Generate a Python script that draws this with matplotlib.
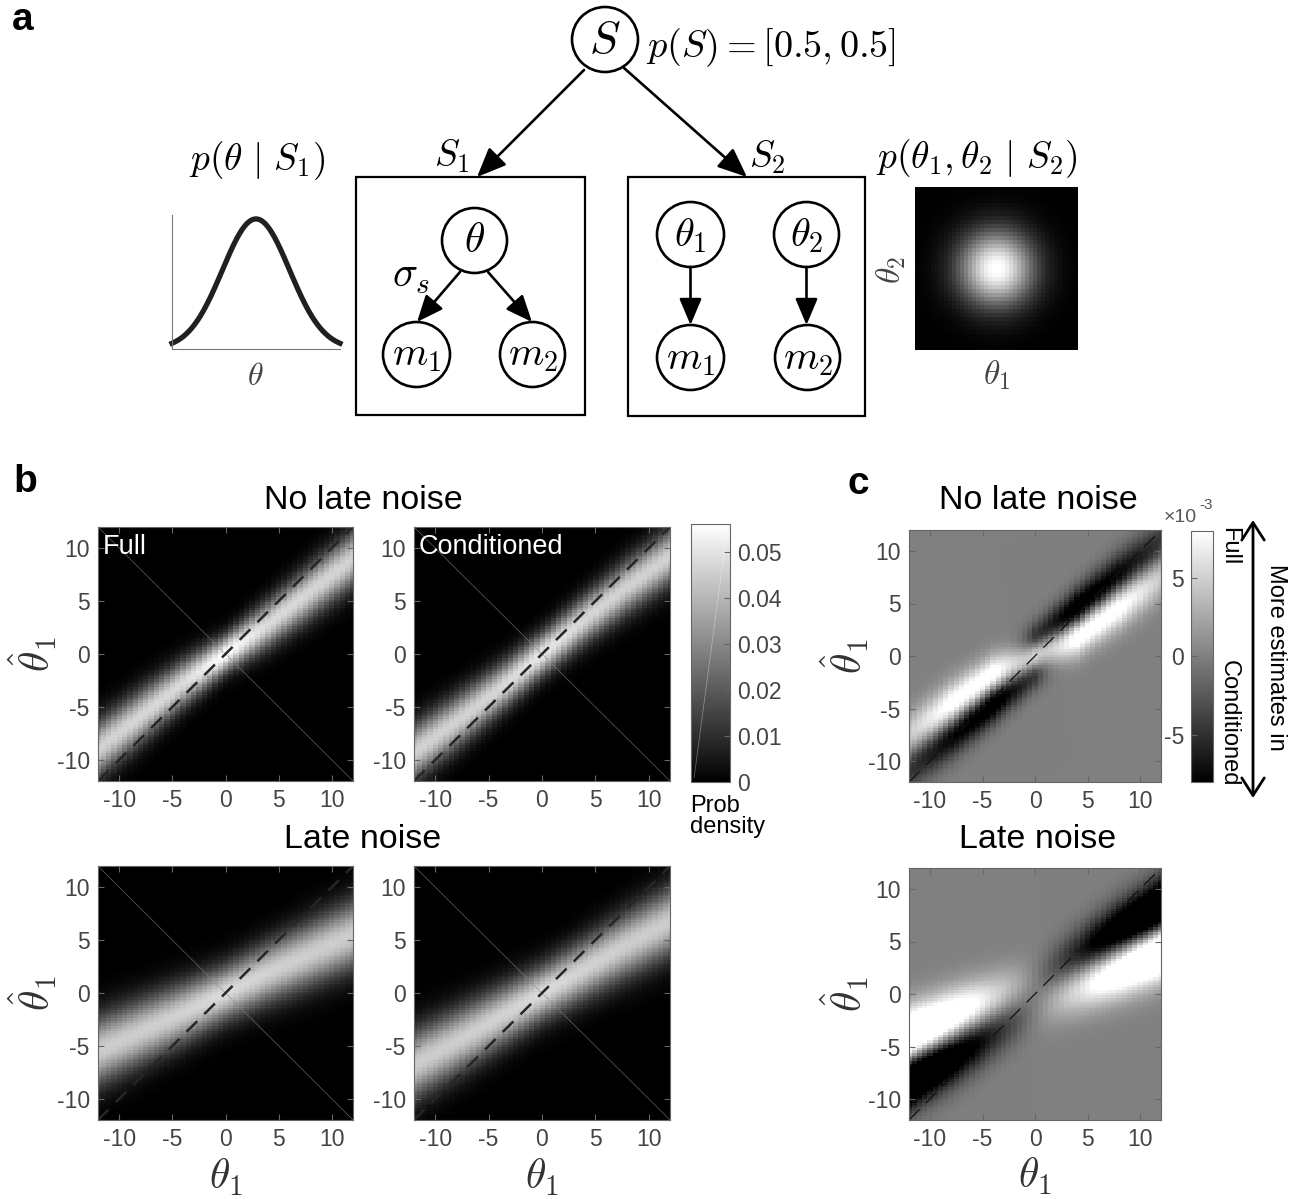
import numpy as np
import matplotlib
matplotlib.use('Agg')
import matplotlib.pyplot as plt
from matplotlib.patches import Ellipse, Rectangle, FancyArrowPatch

plt.rcParams['font.family'] = ['Liberation Sans', 'DejaVu Sans']
plt.rcParams['mathtext.fontset'] = 'cm'
plt.rcParams['axes.unicode_minus'] = False

W, H = 1293, 1199

# ---- data ----
ticks = [-10, -5, 0, 5, 10]
tick_labels = ['-10', '-5', '0', '5', '10']
cb_b_ticks = [0, 0.01, 0.02, 0.03, 0.04, 0.05]
cb_b_labels = ['0', '0.01', '0.02', '0.03', '0.04', '0.05']
cb_c_ticks = [-0.005, 0, 0.005]
cb_c_labels = ['-5', '0', '5']
b_vmax = 0.056
c_lim = 0.008

# band centre / width / height of the estimate density at a few theta values
theta_anchor = [-12, -8, -4, 0, 4, 8, 12]
full_mu = [-9.0, -5.9, -2.8, 0, 2.8, 5.9, 9.0]
full_sd = [1.8, 1.7, 1.5, 1.2, 1.5, 1.7, 1.8]
full_amp = [0.046, 0.047, 0.048, 0.056, 0.048, 0.047, 0.046]
cond_mu = [-9.3, -6.4, -3.3, 0, 3.3, 6.4, 9.3]
cond_sd = [1.8, 1.7, 1.55, 1.4, 1.55, 1.7, 1.8]
cond_amp = [0.046, 0.046, 0.047, 0.051, 0.047, 0.046, 0.046]
full_late_mu = [-5.5, -3.7, -1.9, 0, 1.9, 3.7, 5.5]
full_late_sd = [2.2, 2.1, 1.95, 1.8, 1.95, 2.1, 2.2]
full_late_amp = [0.045, 0.045, 0.046, 0.048, 0.046, 0.045, 0.045]
cond_late_mu = [-6.8, -4.6, -2.3, 0, 2.3, 4.6, 6.8]
cond_late_sd = [2.2, 2.1, 1.95, 1.8, 1.95, 2.1, 2.2]
cond_late_amp = [0.045, 0.045, 0.046, 0.048, 0.046, 0.045, 0.045]

theta_cols = np.linspace(-12, 12, 49)
theta_rows = np.linspace(-12, 12, 97)


def band(mu, sd, amp):
    m = np.interp(theta_cols, theta_anchor, mu)
    s = np.interp(theta_cols, theta_anchor, sd)
    a = np.interp(theta_cols, theta_anchor, amp)
    return a[None, :] * np.exp(-(theta_rows[:, None] - m[None, :])**2 / (2 * s[None, :]**2))


full = band(full_mu, full_sd, full_amp)
cond = band(cond_mu, cond_sd, cond_amp)
full_late = band(full_late_mu, full_late_sd, full_late_amp)
cond_late = band(cond_late_mu, cond_late_sd, cond_late_amp)

fig = plt.figure(figsize=(W / 100, H / 100), dpi=100)


def px_axes(x0, y0, x1, y1):
    return fig.add_axes([x0 / W, 1 - y1 / H, (x1 - x0) / W, (y1 - y0) / H])


def fx(x):
    return x / W


def fy(y):
    return 1 - y / H


# ---- panel a: diagram on an overlay in pixel coordinates ----
ov = px_axes(0, 0, W, H)
ov.set_xlim(0, W)
ov.set_ylim(H, 0)
ov.axis('off')

nodes = [('S', 605, 39.5, 66, 65, 33),
         (r'\theta', 474.5, 240.5, 65, 65, 30),
         ('m_1', 416.5, 354.5, 67, 65, 29),
         ('m_2', 532.5, 354.5, 65, 65, 29),
         (r'\theta_1', 690.5, 234.5, 67, 65, 29),
         (r'\theta_2', 806.5, 234.5, 65, 65, 29),
         ('m_1', 690.5, 357.5, 67, 65, 29),
         ('m_2', 807.5, 357.5, 65, 65, 29)]
for lab, cx, cy, w, h, fs in nodes:
    ov.add_patch(Ellipse((cx, cy), w, h, fill=False, lw=1.9, ec='black'))
    ov.text(cx, cy + 1, '$' + lab + '$', fontsize=fs, ha='center', va='center')

ov.add_patch(Rectangle((356, 177), 229, 238, fill=False, lw=1.6, ec='black'))
ov.add_patch(Rectangle((628, 177), 237, 239, fill=False, lw=1.6, ec='black'))

arrows = [((584, 70), (477, 177), 20),
          ((624, 68), (747, 177), 20),
          ((460, 272), (417, 322), 18),
          ((488, 272), (532, 322), 18),
          ((690.5, 267), (690.5, 325), 18),
          ((806.5, 267), (806.5, 325), 18)]
for a0, a1, ms in arrows:
    ov.add_patch(FancyArrowPatch(a0, a1, arrowstyle='-|>,head_length=0.9,head_width=0.38',
                                 mutation_scale=ms, lw=1.9, color='black',
                                 shrinkA=0, shrinkB=0))

ov.text(646, 48, r'$p(S)=[0.5,0.5]$', fontsize=27.5, ha='left', va='center')
ov.text(452, 156, r'$S_1$', fontsize=27, ha='center', va='center')
ov.text(767, 157, r'$S_2$', fontsize=27, ha='center', va='center')
ov.text(257, 161, r'$p(\theta\ |\ S_1)$', fontsize=27, ha='center', va='center')
ov.text(977, 159, r'$p(\theta_1,\theta_2\ |\ S_2)$', fontsize=27, ha='center', va='center')
ov.text(411, 276, r'$\sigma_s$', fontsize=30, ha='center', va='center')
ov.text(255, 377, r'$\theta$', fontsize=23, ha='center', va='center', color='#444444')
ov.text(997, 375, r'$\theta_1$', fontsize=24, ha='center', va='center', color='#444444')
ov.text(891, 270, r'$\theta_2$', fontsize=24, ha='center', va='center', rotation=90,
        color='#444444')

# double arrow next to colourbar of panel c
ov.add_patch(FancyArrowPatch((1253, 520), (1253, 798), arrowstyle='<->,head_length=0.7,head_width=0.45',
                             mutation_scale=18, lw=2.0, color='black', shrinkA=0, shrinkB=0))
ov.text(1276, 657, 'More estimates in', fontsize=17, rotation=270, ha='center', va='center')
ov.text(1229, 527, 'Full', fontsize=17, rotation=270, ha='center', va='top')
ov.text(1229, 786, 'Conditioned', fontsize=17, rotation=270, ha='center', va='bottom')
ov.text(1197, 517, '\u00d710', fontsize=14, ha='right', va='center', color='#555555')
ov.text(1199, 505, '-3', fontsize=11, ha='left', va='center', color='#555555')

# panel letters, titles
for lab, x, y in [('a', 23, 20), ('b', 25, 482), ('c', 858, 484)]:
    fig.text(fx(x), fy(y), lab, fontsize=28, fontweight='bold', ha='center', va='center')
for lab, x, y in [('No late noise', 363, 500), ('Late noise', 363, 840),
                  ('No late noise', 1038, 500), ('Late noise', 1038, 840)]:
    fig.text(fx(x), fy(y), lab, fontsize=24.5, ha='center', va='center')
fig.text(fx(690), fy(795), 'Prob\ndensity', fontsize=17, ha='left', va='top', linespacing=0.95)

# gaussian prior sketch
ax_p = px_axes(172, 215, 340, 349)
xs = np.linspace(-2.5, 2.5, 201)
ax_p.plot(xs, np.exp(-xs**2 / 2), color='#231f20', lw=3.8, clip_on=False)
ax_p.set_xlim(-2.5, 2.5)
ax_p.set_ylim(0, 1.03)
ax_p.set_xticks([])
ax_p.set_yticks([])
ax_p.spines['top'].set_visible(False)
ax_p.spines['right'].set_visible(False)
for sp in ['left', 'bottom']:
    ax_p.spines[sp].set_color('#777777')
    ax_p.spines[sp].set_linewidth(0.8)
ax_p.patch.set_alpha(0)

# 2d prior image
ax_g = px_axes(915, 187, 1078, 350)
g = np.linspace(-1, 1, 40)
gx, gy = np.meshgrid(g, g)
ax_g.imshow(np.exp(-(gx**2 + gy**2) / (2 * 0.33**2)), cmap='gray', interpolation='nearest',
            aspect='auto')
ax_g.axis('off')


def style(ax):
    ax.set_xlim(-12, 12)
    ax.set_ylim(-12, 12)
    ax.set_xticks(ticks)
    ax.set_yticks(ticks)
    ax.set_xticklabels(tick_labels)
    ax.set_yticklabels(tick_labels)
    ax.tick_params(direction='in', length=4, width=0.8, color='#666666', labelsize=16.5,
                   labelcolor='#444444', top=True, right=True, pad=6)
    for sp in ax.spines.values():
        sp.set_color('#666666')
        sp.set_linewidth(0.8)


def bpanel(rect, img, label=None):
    ax = px_axes(*rect)
    im = ax.imshow(img, origin='lower', extent=[-12.25, 12.25, -12.125, 12.125], cmap='gray',
                   vmin=0, vmax=b_vmax, interpolation='nearest', aspect='auto')
    ax.plot([-12, 12], [12, -12], color='#8a8a8a', lw=0.5, alpha=0.7)
    ax.plot([-12, 12], [-12, 12], color='#262626', lw=1.8, dashes=(6, 4))
    if label:
        ax.text(0.02, 0.92, label, transform=ax.transAxes, color='white', fontsize=19.5,
                ha='left', va='center')
    style(ax)
    return ax, im


def cpanel(rect, img):
    ax = px_axes(*rect)
    im = ax.imshow(img, origin='lower', extent=[-12.25, 12.25, -12.125, 12.125], cmap='gray',
                   vmin=-c_lim, vmax=c_lim, interpolation='nearest', aspect='auto')
    ax.plot([-12, 12], [-12, 12], color='#111111', lw=0.9, dashes=(12, 7))
    style(ax)
    return ax, im


ax1, im_b = bpanel((98, 527, 353, 781), full, 'Full')
ax2, _ = bpanel((414, 527, 670, 781), cond, 'Conditioned')
ax3, _ = bpanel((98, 866, 353, 1120), full_late)
ax4, _ = bpanel((414, 866, 670, 1120), cond_late)
ax5, im_c = cpanel((909, 530, 1161, 782), full - cond)
ax6, _ = cpanel((909, 868, 1161, 1120), full_late - cond_late)

for ax in [ax1, ax3, ax5, ax6]:
    ax.text(-0.255, 0.5, r'$\hat{\theta}_1$', transform=ax.transAxes, fontsize=30,
            rotation=90, ha='center', va='center', color='#333333')
for ax in [ax3, ax4, ax6]:
    ax.text(0.5, -0.225, r'$\theta_1$', transform=ax.transAxes, fontsize=30,
            ha='center', va='center', color='#333333')

# colourbars
cax_b = px_axes(691, 524, 730, 782)
cb = fig.colorbar(im_b, cax=cax_b, ticks=cb_b_ticks)
cb.set_ticklabels(cb_b_labels)
cb.ax.tick_params(direction='in', length=4, width=0.8, color='#666666', labelsize=16.5,
                  labelcolor='#444444', pad=5)
cb.outline.set_edgecolor('#666666')
cb.outline.set_linewidth(0.8)
cax_b.plot([0.08, 0.9], [0.001, 0.053], color='white', lw=0.5, alpha=0.4)

cax_c = px_axes(1191, 531, 1213, 782)
cbc = fig.colorbar(im_c, cax=cax_c, ticks=cb_c_ticks)
cbc.set_ticklabels(cb_c_labels)
cax_c.yaxis.set_ticks_position('left')
cax_c.yaxis.set_label_position('left')
cbc.ax.tick_params(direction='in', length=4, width=0.8, color='#666666', labelsize=16.5,
                   labelcolor='#444444', pad=5)
cbc.outline.set_edgecolor('#666666')
cbc.outline.set_linewidth(0.8)

fig.savefig('out.png', dpi=100)
